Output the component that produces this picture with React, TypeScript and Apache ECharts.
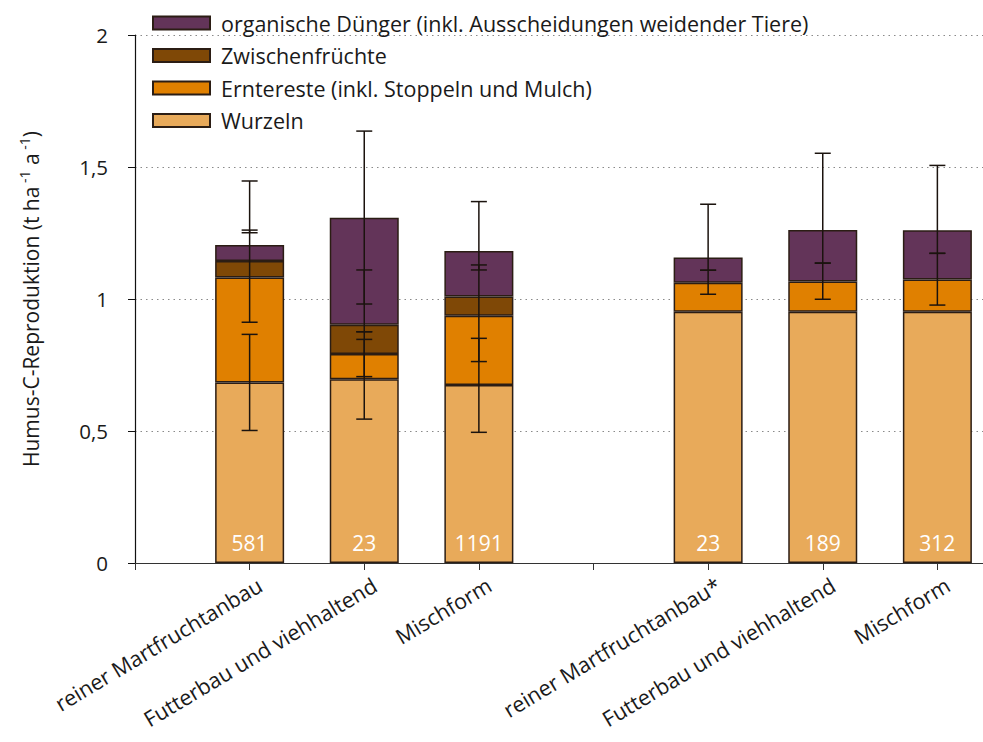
import React, { useEffect, useRef } from "react";
import * as echarts from "echarts";

// categories (empty slots create the spacing of the two groups)
const categories = [
  "",
  "reiner Martfruchtanbau",
  "Futterbau und viehhaltend",
  "Mischform",
  "",
  "reiner Martfruchtanbau*",
  "Futterbau und viehhaltend",
  "Mischform",
  "",
];

const seriesNames = [
  "Wurzeln",
  "Erntereste (inkl. Stoppeln und Mulch)",
  "Zwischenfrüchte",
  "organische Dünger (inkl. Ausscheidungen weidender Tiere)",
];

const wurzeln = [null, 0.684, 0.696, 0.674, null, 0.952, 0.952, 0.952, null];
const erntereste = [null, 0.397, 0.096, 0.263, null, 0.11, 0.114, 0.122, null];
const zwischenfruechte = [null, 0.063, 0.11, 0.072, null, null, null, null, null];
const organisch = [null, 0.061, 0.406, 0.173, null, 0.095, 0.195, 0.186, null];

// sample sizes shown inside bars
const counts = ["", "581", "23", "1191", "", "23", "189", "312", ""];

// error bars: [category index, low, high]
const errorBars = [
  [1, 0.502, 0.866],
  [1, 0.912, 1.261],
  [1, 1.251, 1.447],
  [2, 0.545, 0.847],
  [2, 0.706, 0.876],
  [2, 0.876, 1.11],
  [2, 0.981, 1.636],
  [3, 0.495, 0.851],
  [3, 0.763, 1.129],
  [3, 1.11, 1.369],
  [5, 1.018, 1.109],
  [5, 1.109, 1.359],
  [6, 0.999, 1.136],
  [6, 1.136, 1.552],
  [7, 0.977, 1.173],
  [7, 1.173, 1.506],
];

const yTicks = { min: 0, max: 2, interval: 0.5 };

const colors = ["#e8aa5a", "#e08000", "#7f4806", "#633459"];
const FONT = "Open Sans";
const BORDER = "#2b1d14";

export default function App() {
  const ref = useRef<HTMLDivElement>(null);
  useEffect(() => {
    document.body.style.margin = "0";
    const chart = echarts.init(ref.current!, null, { renderer: "svg" });
    const dataSets = [wurzeln, erntereste, zwischenfruechte, organisch];
    const barSeries = dataSets.map((d, i) => ({
      name: seriesNames[i],
      type: "bar",
      stack: "total",
      barWidth: 69,
      data: d.map((v) => (v == null ? "-" : v)),
      itemStyle: { color: colors[i], borderColor: BORDER, borderWidth: 1.5 },
      label:
        i === 0
          ? {
              show: true,
              position: "insideBottom",
              distance: 10,
              color: "#ffffff",
              fontFamily: FONT,
              fontSize: 21,
              formatter: (p: any) => counts[p.dataIndex],
            }
          : { show: false },
      emphasis: { disabled: true },
      z: 2,
    }));

    chart.setOption({
      animation: false,
      backgroundColor: "#ffffff",
      textStyle: { fontFamily: FONT },
      grid: {
        left: 135,
        top: 35,
        width: 917,
        height: 528,
        containLabel: false,
        outerBoundsMode: "none",
      },
      legend: {
        left: 147,
        top: 7,
        orient: "vertical",
        icon: "rect",
        itemWidth: 57,
        itemHeight: 13,
        itemGap: 10.5,
        data: [seriesNames[3], seriesNames[2], seriesNames[1], seriesNames[0]],
        textStyle: {
          fontFamily: FONT,
          fontSize: 21.5,
          color: "#1a1a1a",
          lineHeight: 22,
          padding: [0, 0, 0, 6],
        },
      },
      xAxis: {
        type: "category",
        boundaryGap: false,
        data: categories,
        axisLine: { lineStyle: { color: "#333333", width: 1.2 } },
        axisTick: { show: true, length: 7, inside: false, lineStyle: { color: "#333333" } },
        axisLabel: {
          interval: 0,
          rotate: 31,
          margin: 26,
          padding: [0, -12, 0, 0],
          fontFamily: FONT,
          fontSize: 21.5,
          color: "#1a1a1a",
        },
        splitLine: { show: false },
      },
      yAxis: {
        type: "value",
        min: yTicks.min,
        max: yTicks.max,
        interval: yTicks.interval,
        name: "Humus-C-Reproduktion (t ha{sup| -1} a{sup| -1})",
        nameLocation: "middle",
        nameGap: 90,
        nameRotate: 90,
        nameTextStyle: {
          fontFamily: FONT,
          fontSize: 21,
          color: "#1a1a1a",
          rich: {
            sup: { fontFamily: FONT, fontSize: 14, color: "#1a1a1a", padding: [0, 0, 14, 0] },
          },
        },
        axisLine: { show: true, lineStyle: { color: "#111111", width: 1.2 } },
        axisTick: { show: true, length: 7, inside: false, lineStyle: { color: "#111111" } },
        axisLabel: {
          margin: 27,
          fontFamily: FONT,
          fontSize: 20.5,
          color: "#1a1a1a",
          formatter: (v: number) => String(v).replace(".", ","),
        },
        splitLine: {
          show: true,
          lineStyle: { color: "#8a8a8a", type: [1.5, 4], width: 1.2 },
        },
      },
      series: [
        ...barSeries,
        {
          type: "custom",
          name: "err",
          data: errorBars,
          encode: { x: 0, y: [1, 2] },
          z: 10,
          silent: true,
          renderItem: (params: any, api: any) => {
            const x = api.value(0);
            const lo = api.coord([x, api.value(1)]);
            const hi = api.coord([x, api.value(2)]);
            const w = 8;
            const style = { stroke: "#1b130e", lineWidth: 1.5 };
            return {
              type: "group",
              children: [
                { type: "line", shape: { x1: lo[0], y1: lo[1], x2: hi[0], y2: hi[1] }, style },
                { type: "line", shape: { x1: lo[0] - w, y1: lo[1], x2: lo[0] + w, y2: lo[1] }, style },
                { type: "line", shape: { x1: hi[0] - w, y1: hi[1], x2: hi[0] + w, y2: hi[1] }, style },
              ],
            };
          },
        },
      ],
    });
    return () => chart.dispose();
  }, []);
  return <div ref={ref} style={{ width: 983, height: 742, overflow: "hidden" }} />;
}
